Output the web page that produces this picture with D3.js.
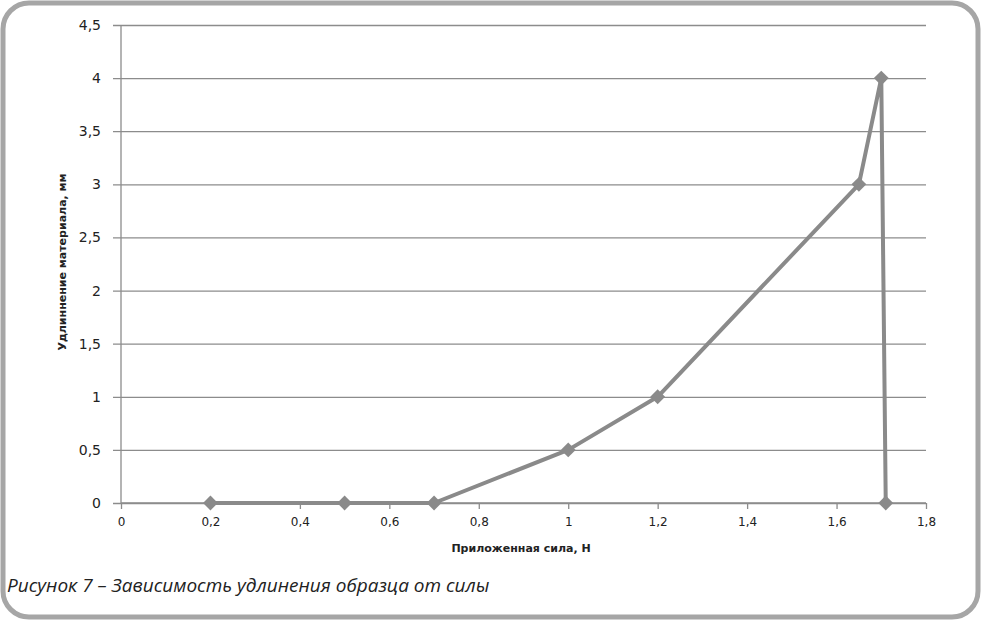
<!DOCTYPE html>
<html><head><meta charset="utf-8">
<script src="https://cdn.jsdelivr.net/npm/d3@7"></script>
<style>body{margin:0;background:#fff}svg{display:block}</style>
</head><body>
<script>
const forceN = [0.2, 0.5, 0.7, 1.0, 1.2, 1.65, 1.7, 1.71];
const elongMm = [0, 0, 0, 0.5, 1, 3, 4, 0];
const xTicks = [0,0.2,0.4,0.6,0.8,1,1.2,1.4,1.6,1.8];
const yTicks = [0,0.5,1,1.5,2,2.5,3,3.5,4,4.5];
const xTitle = "Приложенная сила, Н";
const yTitle = "Удлиннение материала, мм";
const caption = "Рисунок 7 – Зависимость удлинения образца от силы";

const W=981,H=620;
const svg=d3.select("body").append("svg").attr("width",W).attr("height",H);
svg.append("rect").attr("x",3).attr("y",3).attr("width",W-6).attr("height",H-6)
 .attr("rx",26).attr("ry",26).attr("fill","#fff").attr("stroke","#a6a6a6").attr("stroke-width",5);

const x=d3.scaleLinear().domain([0,1.8]).range([121,926]);
const y=d3.scaleLinear().domain([0,4.5]).range([503,25]);
const fmt=d=>String(d).replace(".",",");
const grid="#8c8c8c";

const ya=svg.append("g").attr("transform","translate(121,0)")
 .call(d3.axisLeft(y).tickValues(yTicks).tickFormat(fmt).tickSize(8).tickPadding(12));
ya.select(".domain").remove();
ya.selectAll(".tick line").attr("stroke",grid).attr("x2",x(1.8)-121).attr("x1",-8).attr("stroke-width",1.3);
ya.selectAll(".tick text").attr("font-family","DejaVu Sans, Verdana, sans-serif").attr("font-size",14).attr("fill","#222");

svg.append("line").attr("x1",121).attr("x2",121).attr("y1",y(4.5)).attr("y2",y(0)).attr("stroke",grid).attr("stroke-width",1.3);

const xa=svg.append("g").attr("transform","translate(0,503)")
 .call(d3.axisBottom(x).tickValues(xTicks).tickFormat(fmt).tickSize(6).tickPadding(8));
xa.select(".domain").attr("stroke",grid).attr("stroke-width",1.3).attr("d",`M121,0H926`);
xa.selectAll(".tick line").attr("stroke",grid).attr("stroke-width",1.3);
xa.selectAll(".tick text").attr("font-family","DejaVu Sans, Verdana, sans-serif").attr("font-size",12).attr("fill","#222");

const pts=forceN.map((f,i)=>[f,elongMm[i]]);
svg.append("path").datum(pts).attr("fill","none").attr("stroke","#8a8a8a").attr("stroke-width",4)
 .attr("stroke-linejoin","round")
 .attr("d",d3.line().x(d=>x(d[0])).y(d=>y(d[1])));
svg.selectAll(".m").data(pts).join("path").attr("class","m")
 .attr("transform",d=>`translate(${x(d[0])},${y(d[1])}) rotate(45)`)
 .attr("d",d3.symbol(d3.symbolSquare,110)).attr("fill","#8a8a8a");

svg.append("text").attr("x",521).attr("y",552).attr("text-anchor","middle")
 .attr("font-family","DejaVu Sans, Verdana, sans-serif").attr("font-weight","bold").attr("font-size",11).attr("fill","#222").text(xTitle);
svg.append("text").attr("transform","translate(66,262) rotate(-90)").attr("text-anchor","middle")
 .attr("font-family","DejaVu Sans, Verdana, sans-serif").attr("font-weight","bold").attr("font-size",11).attr("fill","#222").text(yTitle);
svg.append("text").attr("x",7).attr("y",592)
 .attr("font-family","Open Sans, Noto Sans, sans-serif").attr("font-style","italic").attr("font-size",19).attr("fill","#222").text(caption);
</script>
</body></html>
